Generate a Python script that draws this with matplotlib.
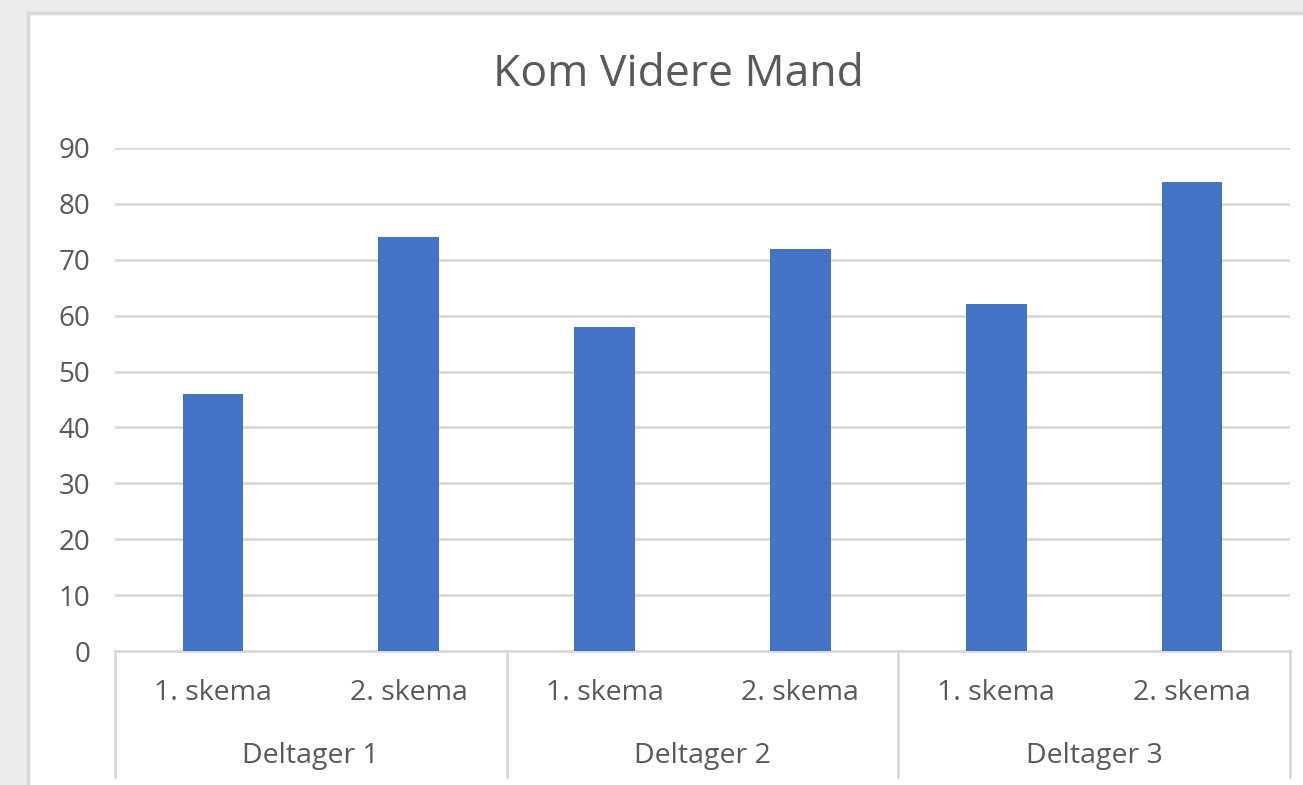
import matplotlib.pyplot as plt
from matplotlib.patches import Rectangle
from matplotlib.transforms import blended_transform_factory

title = "Kom Videre Mand"
groups = ["Deltager 1", "Deltager 2", "Deltager 3"]
sub_labels = ["1. skema", "2. skema"]
values = [46, 74, 58, 72, 62, 84]
yticks = [0, 10, 20, 30, 40, 50, 60, 70, 80, 90]

text_col = "#595959"
grid_col = "#d9d9d9"
bar_col = "#4472c4"

plt.rcParams["font.family"] = ["Open Sans", "DejaVu Sans"]

W, H = 1303, 785
fig = plt.figure(figsize=(W / 100, H / 100), dpi=100)
fig.patch.set_facecolor("#ebebeb")
fig.patches.append(Rectangle((28 / W, -0.02), 1 - 28 / W + 0.01, (H - 13) / H + 0.02,
                             transform=fig.transFigure, facecolor="white",
                             edgecolor=grid_col, linewidth=2.5, zorder=-5))

left, right, top, bottom = 115, 1290, 148, 651
ax = fig.add_axes([left / W, 1 - bottom / H, (right - left) / W, (bottom - top) / H])
ax.set_facecolor("none")

x = list(range(len(values)))
ax.bar(x, values, width=0.31, color=bar_col, zorder=3)
ax.set_xlim(-0.5, len(values) - 0.5)
ax.set_ylim(0, 90)
ax.set_yticks(yticks)
ax.tick_params(axis="y", length=0, pad=18, labelsize=20, labelcolor=text_col)
ax.set_xticks([])
for y in yticks[1:]:
    ax.axhline(y, color=grid_col, linewidth=2, zorder=1)
for s in ["top", "right", "left"]:
    ax.spines[s].set_visible(False)
ax.spines["bottom"].set_color(grid_col)
ax.spines["bottom"].set_linewidth(2)

trans = blended_transform_factory(ax.transData, fig.transFigure)
for i in x:
    ax.text(i, 1 - 693 / H, sub_labels[i % 2], transform=trans, ha="center",
            va="center", fontsize=20.5, color=text_col)
for g, name in enumerate(groups):
    ax.text(2 * g + 0.5, 1 - 756 / H, name, transform=trans, ha="center",
            va="center", fontsize=20.5, color=text_col)
for b in [-0.5, 1.5, 3.5, 5.5]:
    ax.plot([b, b], [1 - bottom / H, 1 - 777 / H], transform=trans,
            color=grid_col, linewidth=2, clip_on=False)

fig.text(678 / W, 1 - 75 / H, title, ha="center", va="center",
         fontsize=32, color=text_col)

fig.savefig("out.png", dpi=100)
